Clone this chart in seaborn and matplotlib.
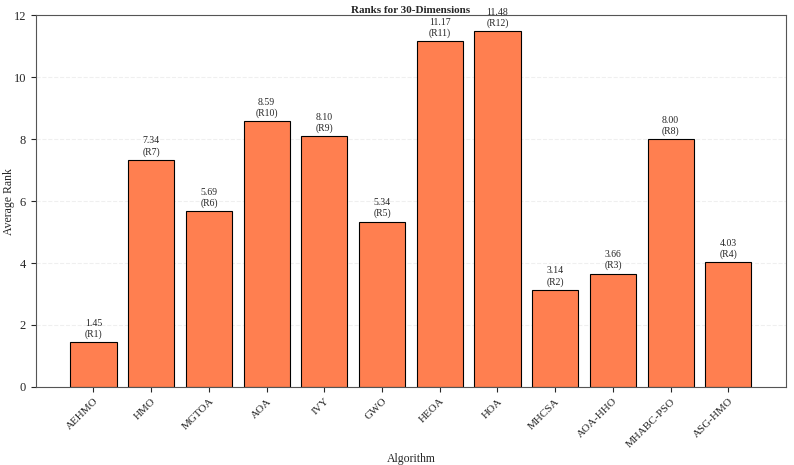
import matplotlib
matplotlib.use("Agg")
import matplotlib.pyplot as plt
import seaborn as sns
import pandas as pd

algorithms = ["AEHMO", "HMO", "MGTOA", "AOA", "IVY", "GWO", "HEOA", "HOA",
              "MHCSA", "AOA-HHO", "MHABC-PSO", "ASG-HMO"]
avg_rank = [1.45, 7.34, 5.69, 8.59, 8.10, 5.34, 11.17, 11.48, 3.14, 3.66, 8.00, 4.03]
final_rank = [1, 7, 6, 10, 9, 5, 11, 12, 2, 3, 8, 4]

df = pd.DataFrame({"Algorithm": algorithms, "Average Rank": avg_rank})

sns.set_style("ticks")
plt.rcParams["font.family"] = ["Liberation Serif", "DejaVu Serif"]

fig, ax = plt.subplots(figsize=(7.94, 4.65), dpi=100)
sns.barplot(data=df, x="Algorithm", y="Average Rank", color="#FF7F50",
            saturation=1, edgecolor="black", linewidth=0.8, width=0.8, ax=ax)

# value + rank label above each bar
for i, (v, r) in enumerate(zip(avg_rank, final_rank)):
    ax.text(i, v + 0.1, f"{v:.2f}\n(R{r})", ha="center", va="bottom", fontsize=7)

ax.set_ylim(0, 12)
ax.set_xlim(-1, 12)
ax.yaxis.grid(True, linestyle="--", alpha=0.3)
ax.set_axisbelow(True)
ax.set_title("Ranks for 30-Dimensions", fontsize=8, fontweight="bold", pad=2)
ax.set_xlabel("Algorithm", fontsize=8.5)
ax.set_ylabel("Average Rank", fontsize=8.5)
ax.xaxis.set_label_coords(0.5, -0.177)
ax.yaxis.set_label_coords(-0.027, 0.5)
plt.setp(ax.get_xticklabels(), rotation=45, ha="right", rotation_mode="anchor", fontsize=8)
ax.tick_params(axis="y", labelsize=9)
for s in ax.spines.values():
    s.set_color("#555555")

fig.subplots_adjust(left=0.045, right=0.99, top=0.967, bottom=0.168)
fig.savefig("out.png", dpi=100)
